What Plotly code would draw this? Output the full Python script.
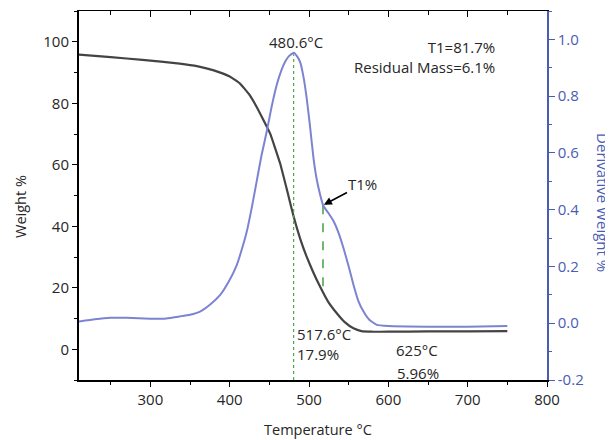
import plotly.graph_objects as go

# ---- data ----
temp_tga = [210, 250, 290, 337, 360, 380, 400, 413, 425, 434, 442, 451, 457, 463.6, 472, 480.4,
            489, 497, 505, 514, 524, 535, 545, 556, 566, 580, 600, 650, 700, 750]
weight_pct = [95.8, 95.0, 94.1, 92.9, 92.0, 90.7, 88.7, 86.4, 82.7, 78.8, 74.8, 70.1, 65.6, 60.4,
              52.0, 43.3, 35.8, 30.1, 25.2, 20.3, 15.5, 11.7, 8.8, 6.8, 5.9, 5.7, 5.7, 5.8, 5.8, 5.9]

temp_dtg = [210, 230, 250, 270, 300, 320, 337, 350, 362.6, 375, 388, 399, 409, 415, 421.6, 428,
            434, 440, 446.8, 453, 459.4, 465, 470, 475, 480.6, 485, 489, 493, 497, 501, 505.6,
            509.5, 514, 518, 524, 531, 537, 543.4, 550, 556, 562, 568.7, 576, 585.5, 600, 650,
            700, 750]
deriv_weight = [0.006, 0.014, 0.019, 0.019, 0.016, 0.017, 0.024, 0.030, 0.041, 0.065, 0.100,
                0.148, 0.206, 0.258, 0.324, 0.410, 0.500, 0.590, 0.677, 0.765, 0.841, 0.890,
                0.922, 0.942, 0.953, 0.940, 0.918, 0.868, 0.794, 0.700, 0.582, 0.510, 0.453,
                0.414, 0.390, 0.359, 0.320, 0.265, 0.200, 0.136, 0.080, 0.041, 0.012, -0.006,
                -0.010, -0.012, -0.012, -0.010]

peak_temp = 480.6
peak_deriv = 0.948
t1_temp = 517.6
t1_deriv = 0.416
t1_weight = 17.9
res_temp = 625
res_weight = 5.96

y2_tickvals = [-0.2, 0.0, 0.2, 0.4, 0.6, 0.8, 1.0]
y2_ticktext = ["-0.2", "0.0", "0.2", "0.4", "0.6", "0.8", "1.0"]

BLUE_AX = "#4a5cb4"
BLUE_LN = "#7c84d2"
GREEN = "#4fa64f"
FONT = "Open Sans"
TXT = "#262626"

fig = go.Figure()

# vertical marker lines (drawn beneath the curves)
fig.add_trace(go.Scatter(x=[peak_temp, peak_temp], y=[-0.2, peak_deriv], mode="lines", yaxis="y2",
                         line=dict(color=GREEN, width=1.2, dash="dot"),
                         showlegend=False, hoverinfo="skip"))
fig.add_trace(go.Scatter(x=[t1_temp, t1_temp], y=[t1_deriv, 0.112], mode="lines", yaxis="y2",
                         line=dict(color=GREEN, width=1.6, dash="dash"),
                         showlegend=False, hoverinfo="skip"))

fig.add_trace(go.Scatter(x=temp_tga, y=weight_pct, mode="lines",
                         line=dict(color="#444444", width=2.2, shape="spline", smoothing=0.35),
                         showlegend=False, hoverinfo="skip"))
fig.add_trace(go.Scatter(x=temp_dtg, y=deriv_weight, mode="lines", yaxis="y2",
                         line=dict(color=BLUE_LN, width=2, shape="spline", smoothing=0.35),
                         showlegend=False, hoverinfo="skip"))
# invisible trace for top axis
fig.add_trace(go.Scatter(x=[210], y=[0], xaxis="x2", mode="markers",
                         marker=dict(opacity=0), showlegend=False, hoverinfo="skip"))

tf = dict(family=FONT, size=15, color=TXT)

# the page body adds an 8px offset, so the figure is 8px smaller and margins shifted
fig.update_layout(
    width=605, height=432,
    margin=dict(l=71, r=66, t=3, b=60),
    paper_bgcolor="white", plot_bgcolor="white",
    font=dict(family=FONT, size=15, color=TXT),
    xaxis=dict(range=[210, 800], tick0=0, dtick=100, ticks="outside", ticklen=5,
               tickwidth=1.2, tickcolor="black", showline=True, linecolor="black",
               linewidth=1.6, showgrid=False, zeroline=False, tickfont=tf,
               minor=dict(dtick=50, tick0=0, ticks="outside", ticklen=3,
                          tickcolor="black", tickwidth=1.2)),
    xaxis2=dict(range=[210, 800], overlaying="x", side="top", tick0=0, dtick=100,
                ticks="inside", ticklen=6, tickwidth=1.2, tickcolor="black",
                showticklabels=False, showline=True, linecolor="black", linewidth=1.2,
                showgrid=False, zeroline=False,
                minor=dict(dtick=50, tick0=0, ticks="inside", ticklen=4,
                           tickcolor="black", tickwidth=1.2)),
    yaxis=dict(range=[-10, 110], tick0=0, dtick=20, ticks="outside", ticklen=5,
               tickwidth=1.2, tickcolor="black", showline=True, linecolor="black",
               linewidth=2, showgrid=False, zeroline=False, tickfont=tf,
               minor=dict(dtick=10, tick0=0, ticks="outside", ticklen=3,
                          tickcolor="black", tickwidth=1.2)),
    yaxis2=dict(range=[-0.2, 1.1], overlaying="y", side="right", tickmode="array",
                tickvals=y2_tickvals, ticktext=y2_ticktext, ticks="outside", ticklen=6,
                tickwidth=1.2, tickcolor=BLUE_AX, showline=True, linecolor=BLUE_AX,
                linewidth=1.6, showgrid=False, zeroline=False,
                tickfont=dict(family=FONT, size=15, color=BLUE_AX),
                minor=dict(dtick=0.1, tick0=0, ticks="outside", ticklen=3,
                           tickcolor=BLUE_AX, tickwidth=1.2)),
)

ann = []
# axis titles
ann.append(dict(text="Temperature °C", xref="paper", yref="paper", x=0.5107, y=-0.1355,
                showarrow=False, font=dict(family=FONT, size=14.5, color=TXT),
                xanchor="center", yanchor="middle"))
ann.append(dict(text="Weight %", xref="paper", yref="paper", x=-0.124, y=0.4716,
                showarrow=False, textangle=-90, font=dict(family=FONT, size=14.5, color=TXT),
                xanchor="center", yanchor="middle"))
ann.append(dict(text="Derivative Weight %", xref="paper", yref="paper", x=1.1197, y=0.482,
                showarrow=False, textangle=90, font=dict(family=FONT, size=15, color=BLUE_AX),
                xanchor="center", yanchor="middle"))
# in-plot labels
ann.append(dict(text=f"{peak_temp}°C", x=483.7, y=100, xref="x", yref="y", showarrow=False,
                font=tf, xanchor="center", yanchor="middle"))
ann.append(dict(text="T1=81.7%<br>Residual Mass=6.1%", x=737, y=95.1, xref="x", yref="y",
                showarrow=False, align="right", font=tf,
                xanchor="right", yanchor="middle"))
ann.append(dict(text=f"{t1_temp}°C<br>{t1_weight}%", x=482.5, y=1.7, xref="x", yref="y",
                showarrow=False, align="left", font=tf, xanchor="left", yanchor="middle"))
ann.append(dict(text=f"{res_temp}°C", x=636.4, y=-0.2, xref="x", yref="y",
                showarrow=False, font=tf, xanchor="center", yanchor="middle"))
ann.append(dict(text=f"{res_weight}%", x=637.5, y=-7.7, xref="x", yref="y",
                showarrow=False, font=tf, xanchor="center", yanchor="middle"))
ann.append(dict(text="T1%", x=t1_temp, y=t1_deriv, xref="x", yref="y2",
                showarrow=True, ax=40, ay=-21, arrowhead=2, arrowsize=1, arrowwidth=1.6,
                arrowcolor="black", font=tf, standoff=1))
fig.update_layout(annotations=ann)

fig.write_html("out.html")
